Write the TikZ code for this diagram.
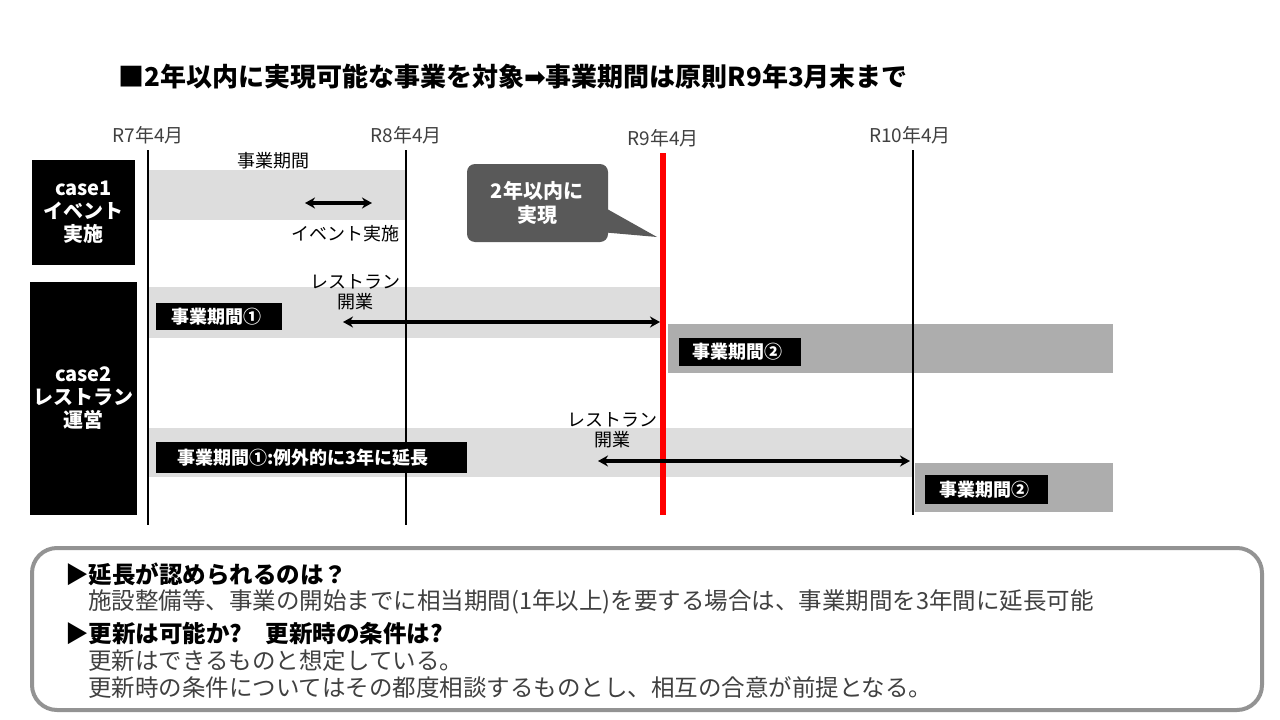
\documentclass[tikz,border=0pt]{standalone}
\usepackage{fontspec}
\setmainfont{Noto Sans CJK JP}
\newfontfamily\symfont{DejaVu Sans}
\usetikzlibrary{positioning,arrows.meta}
\definecolor{bandlight}{HTML}{DDDDDD}
\definecolor{banddark}{HTML}{ADADAD}
\definecolor{calloutgray}{HTML}{595959}
\definecolor{textgray}{HTML}{404040}
\tikzset{
  casebox/.style={fill=black, text=white, font=\bfseries\fontsize{20}{23}\selectfont, align=center},
  periodtag/.style={text=white, font=\bfseries\fontsize{18}{20}\selectfont, inner sep=0pt, anchor=west},
  yearlabel/.style={font=\fontsize{19}{22}\selectfont, text=textgray},
  smalltext/.style={font=\fontsize{18}{20}\selectfont, align=center, inner sep=0pt},
  yearline/.style={line width=2.2pt},
  spanarrow/.style={{Stealth[length=10pt,width=11pt]}-{Stealth[length=10pt,width=11pt]}, line width=4pt},
  memoline/.style={anchor=west, inner sep=0pt, font=\fontsize{23.5}{26}\selectfont, text=textgray},
  memohead/.style={memoline, text=black, font=\bfseries\fontsize{23.5}{26}\selectfont},
}
\begin{document}
\begin{tikzpicture}[x=1pt,y=-1pt]
\useasboundingbox (0,0) rectangle (1280,720);

% title
\node[anchor=west, inner sep=0pt, font=\bfseries\fontsize{26}{30}\selectfont] (title) at (118,77)
  {■2年以内に実現可能な事業を対象{\symfont ➡}事業期間は原則R9年3月末まで};

% bands
\fill[bandlight] (148,170) rectangle (406,220);
\fill[bandlight] (148,287) rectangle (663,338);
\fill[banddark] (668,324) rectangle (1113,373);
\fill[bandlight] (148,428) rectangle (913,477);
\fill[banddark] (915,463) rectangle (1113,512);

% year lines
\draw[yearline] (148,150) -- (148,525);
\draw[yearline] (406,150) -- (406,525);
\draw[yearline] (913,150) -- (913,515);
\draw[line width=6pt, red] (663,153) -- (663,515);
\node[yearlabel] (r7) at (148,135) {R7年4月};
\node[yearlabel] (r8) at (406,135) {R8年4月};
\node[yearlabel] (r9) at (663,138) {R9年4月};
\node[yearlabel] (r10) at (910,135) {R10年4月};

% case boxes
\node[casebox, minimum width=103pt, minimum height=105pt] (case1) at (83.5,212.5) {case1\\イベント\\実施};
\node[casebox, minimum width=103pt, minimum height=233pt] (case2) at (83.5,398.5) {case2\\レストラン\\運営};

% case1
\node[smalltext] (period1) at (273,161) {事業期間};
\coordinate (ev1) at (305,203);
\coordinate (ev2) at (372,203);
\draw[spanarrow] (ev1) -- (ev2);
\node[smalltext] (event) at (345,234) {イベント実施};

% callout
\fill[calloutgray, rounded corners=8pt] (467,164) rectangle (608,242);
\fill[calloutgray] (600,205) -- (657,237) -- (600,232) -- cycle;
\node[text=white, font=\bfseries\fontsize{20}{24}\selectfont, align=center] (callout) at (537,203) {2年以内に\\実現};

% case2 row 1
\fill[black] (156,303) rectangle (282,330);
\node[periodtag] (p1a) at (171,316.5) {事業期間①};
\fill[black] (679,338) rectangle (801,366);
\node[periodtag] (p2a) at (692,352) {事業期間②};
\node[smalltext] (open1) at (355,292) {レストラン\\開業};
\coordinate (oa1) at (343,322);
\coordinate (oa2) at (660,322);
\draw[spanarrow] (oa1) -- (oa2);

% case2 row 2
\fill[black] (156,442) rectangle (467,473);
\node[periodtag] (p1b) at (177,457.5) {事業期間①:例外的に3年に延長};
\fill[black] (925,475) rectangle (1048,504);
\node[periodtag] (p2b) at (939,489.5) {事業期間②};
\node[smalltext] (open2) at (612,430) {レストラン\\開業};
\coordinate (ob1) at (598,461);
\coordinate (ob2) at (910,461);
\draw[spanarrow] (ob1) -- (ob2);

% memo
\draw[line width=4pt, color=gray!85, rounded corners=25pt] (32,548) rectangle (1262,710);
\node[memohead] (q1) at (65,574) {▶延長が認められるのは？};
\node[memoline] (a1) at (88,602) {施設整備等、事業の開始までに相当期間(1年以上)を要する場合は、事業期間を3年間に延長可能};
\node[memohead] (q2) at (65,633) {▶更新は可能か?\quad 更新時の条件は?};
\node[memoline] (a2) at (88,661) {更新はできるものと想定している。};
\node[memoline] (a3) at (88,688) {更新時の条件についてはその都度相談するものとし、相互の合意が前提となる。};
\end{tikzpicture}
\end{document}
